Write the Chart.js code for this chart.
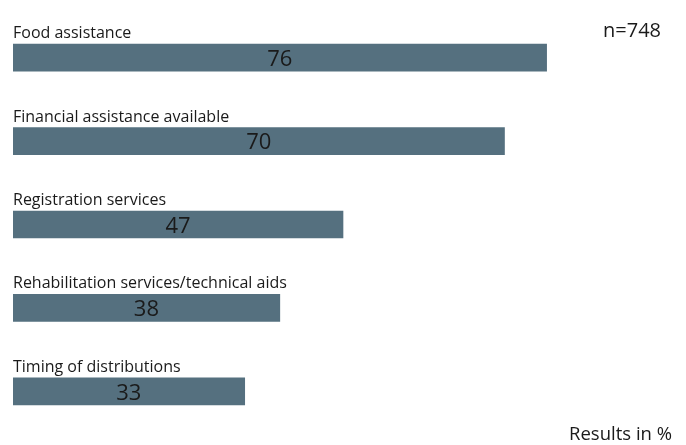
<!DOCTYPE html>
<html>
<head>
<meta charset="utf-8">
<script src="https://cdn.jsdelivr.net/npm/chart.js@4/dist/chart.umd.min.js"></script>
<style>
  html, body { margin: 0; padding: 0; background: #fff; }
  #wrap { position: relative; width: 686px; height: 445px; }
</style>
</head>
<body>
<div id="wrap"><canvas id="chart"></canvas></div>
<script>
// answers, percent of respondents
var categories = [
	"Food assistance",
	"Financial assistance available",
	"Registration services",
	"Rehabilitation services/technical aids",
	"Timing of distributions"
];
var values = [76, 70, 47, 38, 33];
var sampleNote = "n=748";
var unitNote = "Results in %";

var FONT = "'Open Sans', sans-serif";

// category names above each bar, value in the middle of the bar, notes in the corners
var barText = {
	id: "barText",
	afterDatasetsDraw: function(chart) {
		var ctx = chart.ctx;
		var area = chart.chartArea;
		var meta = chart.getDatasetMeta(0);
		ctx.save();
		meta.data.forEach(function(bar, i) {
			var top = bar.y - bar.height / 2;
			ctx.fillStyle = "#1a1a1a";
			ctx.font = "16px " + FONT;
			ctx.textAlign = "left";
			ctx.textBaseline = "alphabetic";
			ctx.fillText(categories[i], area.left, top - 6);

			ctx.font = "22px " + FONT;
			ctx.textAlign = "center";
			ctx.textBaseline = "middle";
			ctx.fillText(values[i], (bar.base + bar.x) / 2, bar.y + 2);
		});
		ctx.textAlign = "right";
		ctx.textBaseline = "alphabetic";
		ctx.font = "20px " + FONT;
		ctx.fillText(sampleNote, 661, 37);
		ctx.font = "18.5px " + FONT;
		ctx.fillText(unitNote, 672, 440);
		ctx.restore();
	}
};

new Chart(document.getElementById("chart"), {
	type: "bar",
	data: {
		labels: categories,
		datasets: [{
			data: values,
			backgroundColor: "#55707f",
			borderWidth: 0,
			barThickness: 27
		}]
	},
	options: {
		indexAxis: "y",
		responsive: true,
		maintainAspectRatio: false,
		animation: false,
		layout: { padding: { left: 13, right: 13, top: 16, bottom: 12 } },
		scales: {
			x: { display: false, min: 0, max: 94 },
			y: { display: false }
		},
		plugins: {
			legend: { display: false },
			tooltip: { enabled: false }
		}
	},
	plugins: [barText]
});
</script>
</body>
</html>
